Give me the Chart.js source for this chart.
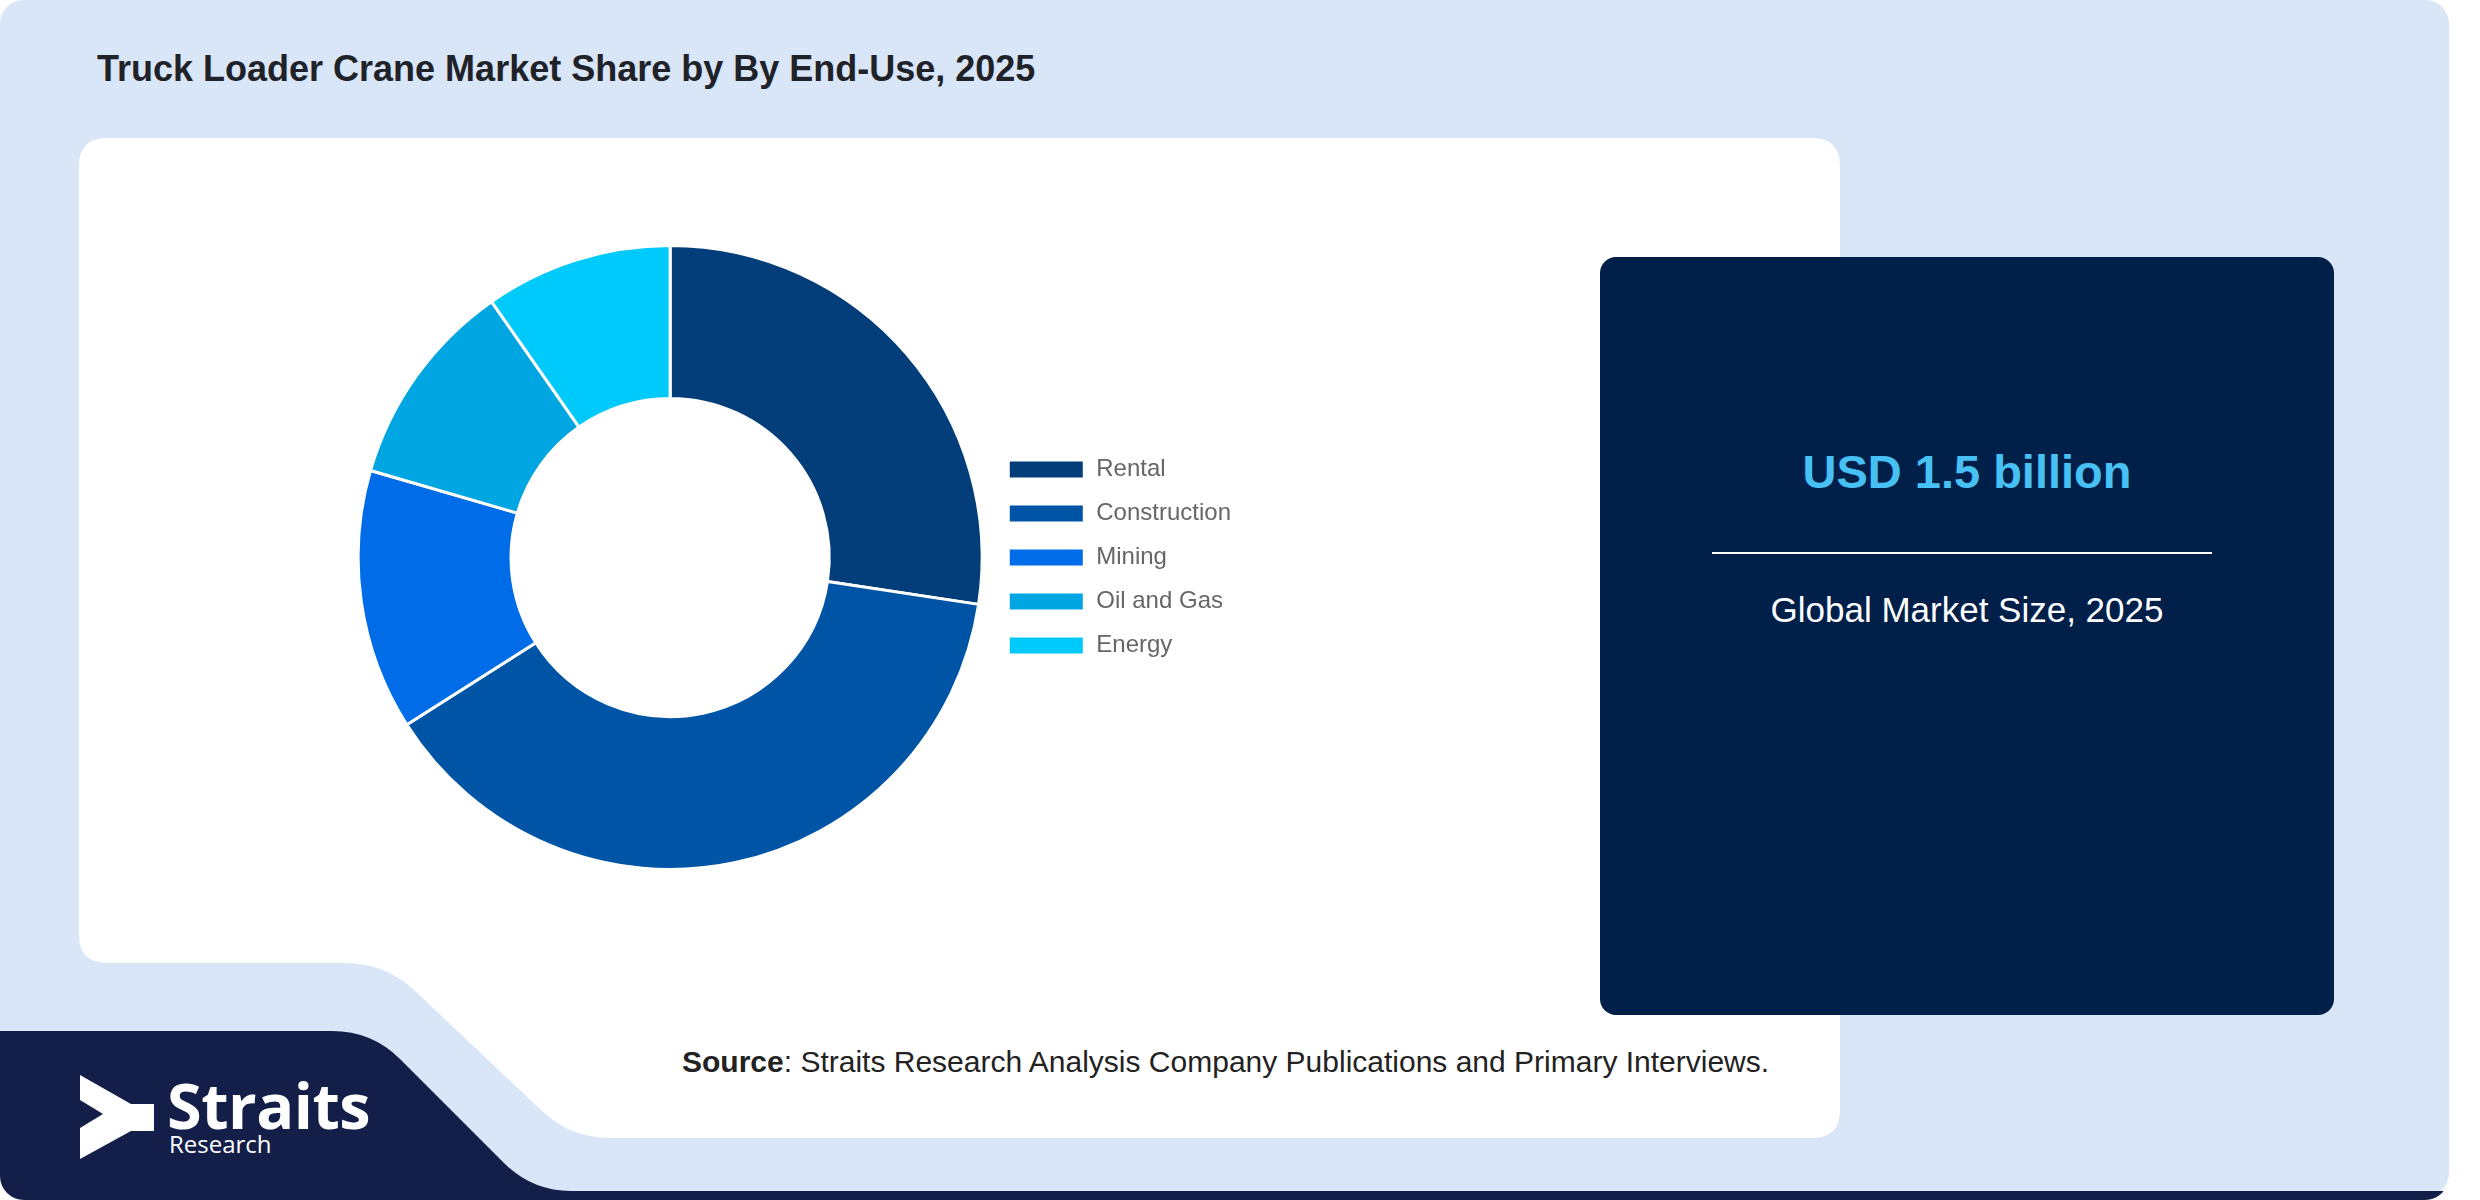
<!DOCTYPE html>
<html>
<head>
<meta charset="utf-8">
<script src="https://cdn.jsdelivr.net/npm/chart.js@4.4.1/dist/chart.umd.min.js"></script>
<style>
  html, body { margin: 0; padding: 0; background: #ffffff; }
  body { width: 2480px; height: 1200px; position: relative; overflow: hidden; font-family: 'Liberation Sans', Arial, Helvetica, sans-serif; }
  #bg { position: absolute; left: 0; top: 0; }
  #title { position: absolute; left: 97px; top: 48px; font-size: 36px; font-weight: bold; color: #1f2329; white-space: nowrap; }
  #chartWrap { position: absolute; left: 352px; top: 244px; width: 889px; height: 627px; }
  #box { position: absolute; left: 1600px; top: 257px; width: 734px; height: 758px; background: #00204a; border-radius: 16px; }
  #value { position: absolute; left: 0; width: 734px; top: 187px; text-align: center; font-size: 47px; font-weight: bold; color: #47c1f4; }
  #rule { position: absolute; left: 112px; width: 500px; top: 295px; height: 2px; background: #ffffff; }
  #sub { position: absolute; left: 0; width: 734px; top: 333px; text-align: center; font-size: 35px; color: #ffffff; }
  #source { position: absolute; left: 682px; top: 1045px; font-size: 30px; color: #222222; white-space: nowrap; }
  #logo { position: absolute; left: 167px; top: 1078px; font-family: 'Open Sans', 'Noto Sans', sans-serif; color: #ffffff; }
  #logo .big { display: block; font-weight: bold; font-size: 63px; line-height: 54px; height: 54px; letter-spacing: -0.5px; }
  #logo .small { display: block; font-size: 24px; line-height: 24px; height: 24px; margin-left: 2px; }
</style>
</head>
<body>
<svg id="bg" width="2480" height="1200" xmlns="http://www.w3.org/2000/svg">
  <defs>
    <clipPath id="card">
      <rect x="0" y="0" width="2449" height="1200" rx="24" ry="24"/>
    </clipPath>
  </defs>
  <rect x="0" y="0" width="2449" height="1197" rx="24" ry="24" fill="#d9e6f8"/>
  <g clip-path="url(#card)">
    <path d="M 0,1031 H 332 Q 372,1031 400,1059 L 503,1162 Q 531,1191 571,1191 H 2449 V 1200 H 0 Z" fill="#141f49"/>
  </g>
  <path d="M 107,138 H 1812 Q 1840,138 1840,166 V 1110 Q 1840,1138 1812,1138 H 610 Q 570,1138 541,1110 L 414,990 Q 385,963 345,963 H 107 Q 79,963 79,935 V 166 Q 79,138 107,138 Z" fill="#ffffff"/>
  <polygon points="80,1075 131,1104 154,1104 154,1131 131,1131 80,1159 80,1128 103,1114 80,1100" fill="#ffffff"/>
</svg>

<div id="title">Truck Loader Crane Market Share by By End-Use, 2025</div>

<div id="chartWrap"><canvas id="c" width="889" height="627"></canvas></div>

<div id="box">
  <div id="value">USD 1.5 billion</div>
  <div id="rule"></div>
  <div id="sub">Global Market Size, 2025</div>
</div>

<div id="source"><b>Source</b>: Straits Research Analysis Company Publications and Primary Interviews.</div>

<div id="logo"><span class="big">Straits</span><span class="small">Research</span></div>

<script>
const categories = ['Rental', 'Construction', 'Mining', 'Oil and Gas', 'Energy'];
const shareValues = [27.4, 38.6, 13.5, 10.8, 9.7];
const sliceColors = ['#033d7a', '#0054a6', '#006ce8', '#00a6e2', '#00c9fb'];

new Chart(document.getElementById('c'), {
  type: 'doughnut',
  data: {
    labels: categories,
    datasets: [{
      data: shareValues,
      backgroundColor: sliceColors,
      borderColor: '#ffffff',
      borderWidth: 3,
      hoverOffset: 0
    }]
  },
  options: {
    responsive: false,
    devicePixelRatio: 1,
    animation: false,
    cutout: '51%',
    layout: { padding: 0 },
    plugins: {
      legend: {
        position: 'right',
        align: 'center',
        labels: {
          boxWidth: 76,
          boxHeight: 19,
          padding: 20,
          color: '#666666',
          font: { family: "'Liberation Sans', Arial, Helvetica, sans-serif", size: 24 }
        }
      },
      tooltip: { enabled: false },
      title: { display: false }
    }
  }
});
</script>
</body>
</html>
